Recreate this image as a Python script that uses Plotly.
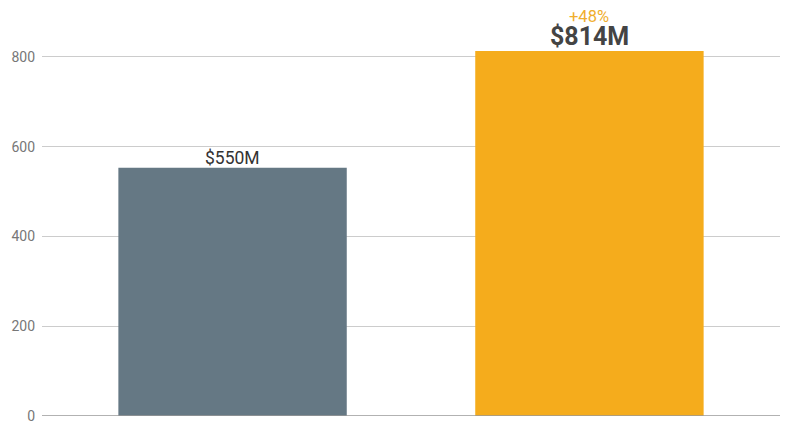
import plotly.graph_objects as go

# data
categories = ["Before", "After"]
values = [553, 813]
value_labels = ["$550M", "$814M"]
bar_colors = ["#657884", "#F5AC1C"]
change_label = "+48%"
y_ticks = [0, 200, 400, 600, 800]

fig = go.Figure()

fig.add_trace(go.Bar(
    x=categories,
    y=values,
    marker_color=bar_colors,
    marker_line_width=0,
    width=0.64,
    hoverinfo="skip",
))

# labels over bars
fig.add_annotation(x=categories[0], y=values[0], text=value_labels[0],
                   showarrow=False, yanchor="bottom", yshift=-2,
                   font=dict(size=17.5, color="#333333", family="Roboto"))
fig.add_annotation(x=categories[1], y=values[1], text="<b>" + value_labels[1] + "</b>",
                   showarrow=False, yanchor="bottom", yshift=-2,
                   font=dict(size=25, color="#444444", family="Roboto"))
fig.add_annotation(x=categories[1], y=values[1], text=change_label,
                   showarrow=False, yanchor="bottom", yshift=24, borderpad=0,
                   font=dict(size=16.5, color="#F0AE2E", family="Roboto"))

# page body has an 8px margin, so the figure is a bit smaller than the window
fig.update_layout(
    width=792,
    height=439,
    margin=dict(l=34, r=20, t=4, b=31),
    plot_bgcolor="white",
    paper_bgcolor="white",
    showlegend=False,
    font=dict(family="Roboto", color="#777777", size=14),
    xaxis=dict(
        range=[-0.534, 1.534],
        showticklabels=False,
        showgrid=False,
        zeroline=False,
        showline=False,
    ),
    yaxis=dict(
        range=[0, 900],
        tickvals=y_ticks,
        gridcolor="#cccccc",
        gridwidth=1,
        zeroline=False,
        showline=False,
        ticks="",
        ticklabelstandoff=6,
        tickfont=dict(size=14, color="#777777"),
    ),
)

# darker baseline
fig.add_hline(y=0, line_color="#999999", line_width=1.5, layer="above")

fig.write_html("out.html")
